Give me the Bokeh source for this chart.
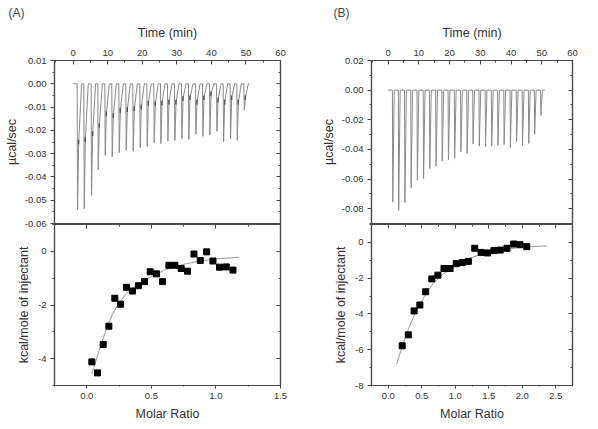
from bokeh.plotting import figure
from bokeh.layouts import row, column
from bokeh.models import (LinearAxis, SingleIntervalTicker, NumeralTickFormatter, Range1d,
                          CustomLabelingPolicy)
from bokeh.embed import file_html
from bokeh.resources import INLINE

FONT = "Liberation Sans"
TXT = "#333333"
FRAME = "#4a4a4a"
TRACE = "#8a8a8a"

# ---------------- data: panel A ----------------
a_inj_time = [1.15, 3.08, 5.20, 7.13, 9.16, 11.18, 13.21, 15.23, 17.26, 19.28, 21.31, 23.34, 25.27,
              27.29, 29.32, 31.35, 33.37, 35.40, 37.42, 39.45, 41.48, 43.41, 45.43, 47.36, 49.39]
a_peak = [-0.0540, -0.0536, -0.0479, -0.0369, -0.0307, -0.0314, -0.0296, -0.0286, -0.0290, -0.0274,
          -0.0269, -0.0254, -0.0257, -0.0246, -0.0243, -0.0236, -0.0239, -0.0217, -0.0226, -0.0220,
          -0.0204, -0.0250, -0.0236, -0.0243, -0.0114]
a_shoulder = [-0.0250, -0.0240, -0.0214, -0.0179, -0.0129, -0.0136, -0.0114, -0.0111, -0.0107, -0.0100,
              -0.0083, -0.0086, -0.0083, -0.0079, -0.0079, -0.0064, -0.0060, -0.0079, -0.0060, -0.0043,
              -0.0070, -0.0079, -0.0060, -0.0079, -0.0060]
a_ratio = [0.039, 0.083, 0.127, 0.171, 0.217, 0.261, 0.307, 0.354, 0.400, 0.447, 0.491, 0.540,
           0.587, 0.636, 0.682, 0.731, 0.780, 0.830, 0.879, 0.928, 0.977, 1.028, 1.080, 1.132]
a_heat = [-4.12, -4.53, -3.47, -2.79, -1.75, -1.97, -1.34, -1.48, -1.28, -1.13, -0.76, -0.84,
          -1.13, -0.52, -0.52, -0.64, -0.74, -0.10, -0.34, -0.02, -0.36, -0.59, -0.58, -0.70]
a_fit_x = [0.039, 0.096, 0.147, 0.199, 0.251, 0.302, 0.354, 0.432, 0.509, 0.612, 0.742, 0.871, 1.0, 1.181]
a_fit_y = [-4.58, -3.69, -2.95, -2.34, -1.91, -1.60, -1.38, -1.13, -0.92, -0.68, -0.49, -0.37, -0.28, -0.22]

# ---------------- data: panel B ----------------
b_inj_time = [1.40, 3.33, 5.35, 7.37, 9.40, 11.42, 13.45, 15.47, 17.49, 19.52, 21.54, 23.57, 25.59,
              27.52, 29.55, 31.57, 33.60, 35.62, 37.64, 39.67, 41.69, 43.62, 45.64, 47.57, 49.60]
b_peak = [-0.0755, -0.0811, -0.0759, -0.0660, -0.0608, -0.0597, -0.0529, -0.0513, -0.0479, -0.0472,
          -0.0461, -0.0416, -0.0427, -0.0363, -0.0377, -0.0382, -0.0377, -0.0372, -0.0368, -0.0389,
          -0.0348, -0.0372, -0.0360, -0.0298, -0.0172]
b_ratio = [0.208, 0.299, 0.386, 0.472, 0.559, 0.650, 0.741, 0.832, 0.923, 1.014, 1.105, 1.196,
           1.291, 1.386, 1.482, 1.577, 1.672, 1.772, 1.872, 1.967, 2.067]
b_heat = [-5.78, -5.17, -3.83, -3.50, -2.76, -2.04, -1.83, -1.46, -1.46, -1.19, -1.13, -1.06,
          -0.33, -0.56, -0.59, -0.46, -0.43, -0.33, -0.09, -0.13, -0.24]
b_fit_x = [0.126, 0.204, 0.290, 0.377, 0.464, 0.572, 0.680, 0.810, 0.984, 1.200, 1.417, 1.677, 1.980, 2.370]
b_fit_y = [-6.80, -5.87, -4.94, -4.17, -3.50, -2.81, -2.26, -1.80, -1.33, -0.91, -0.63, -0.41, -0.28, -0.19]

time_start, time_end = 0.0, 51.0

NO_LABELS = CustomLabelingPolicy(code="""
    for (const i of Array.from(indices)) { indices.unset(i) }
    return indices
""")


def thermogram(times, peaks, shoulders=None):
    xs, ys = [time_start], [0.0]
    for i, (t, p) in enumerate(zip(times, peaks)):
        if shoulders is not None:
            xs += [t, t + 0.12, t + 0.45, t + 1.3]
            ys += [0.0, p, shoulders[i], 0.0]
        else:
            xs += [t, t + 0.12, t + 0.6]
            ys += [0.0, p, 0.0]
    xs.append(time_end)
    ys.append(0.0)
    return xs, ys


def base_fig(width, height, xr, yr, xloc, left, right, top, bottom):
    p = figure(width=width, height=height, x_range=Range1d(*xr), y_range=Range1d(*yr),
               x_axis_location=xloc, output_backend="svg", toolbar_location=None,
               min_border_left=left, min_border_right=right, min_border_top=top,
               min_border_bottom=bottom)
    p.xgrid.visible = False
    p.ygrid.visible = False
    p.outline_line_color = FRAME
    p.outline_line_width = 1.2
    p.background_fill_color = "white"
    return p


def style(ax, interval, fmt, label=None, tin=0, tout=4, show=True):
    ax.ticker = SingleIntervalTicker(interval=interval, num_minor_ticks=2)
    ax.formatter = NumeralTickFormatter(format=fmt)
    ax.axis_line_color = FRAME
    ax.axis_line_width = 1.2
    ax.major_tick_line_color = FRAME
    ax.minor_tick_line_color = FRAME
    ax.major_tick_in = tin
    ax.major_tick_out = tout
    ax.minor_tick_in = tin // 2
    ax.minor_tick_out = tout // 2
    ax.major_label_text_font = FONT
    ax.major_label_text_color = TXT
    ax.major_label_text_font_size = "9.5px"
    if show:
        ax.major_label_standoff = 4
    else:
        ax.major_label_policy = NO_LABELS
        ax.major_label_standoff = 0
    if label:
        ax.axis_label = label
        ax.axis_label_text_font = FONT
        ax.axis_label_text_font_size = "12.5px"
        ax.axis_label_text_font_style = "normal"
        ax.axis_label_text_color = TXT


def mirror(p, side, interval, fmt):
    ax = LinearAxis()
    style(ax, interval, fmt, tin=4, tout=0, show=False)
    p.add_layout(ax, side)


def top_panel(width, left, right, times, peaks, yr, yint, tag, shoulders=None):
    p = base_fig(width, 231, (-5.4, 60), yr, "above", left, right, 60, 8)
    p.border_fill_color = "white"
    p.title.text = tag
    p.title.align = "left"
    p.title.vertical_align = "top"
    p.title.offset = -(left - 8)
    p.title.standoff = 2
    p.title.text_font = FONT
    p.title.text_font_size = "12px"
    p.title.text_font_style = "normal"
    p.title.text_color = "#444444"
    style(p.xaxis[0], 10, "0", "Time (min)", tin=4, tout=0)
    p.xaxis[0].major_label_standoff = 5
    p.xaxis[0].axis_label_standoff = 7
    style(p.yaxis[0], yint, "0.00", "µcal/sec", tin=0, tout=4)
    p.yaxis[0].axis_label_standoff = 3
    mirror(p, "right", yint, "0.00")
    xs, ys = thermogram(times, peaks, shoulders)
    p.line(xs, ys, line_color=TRACE, line_width=1)
    if shoulders is not None:
        sx = [t + 0.42 for t in times]
        p.segment(x0=sx, y0=[s - 0.001 for s in shoulders], x1=sx, y1=[s + 0.001 for s in shoulders],
                  line_color="#505050", line_width=1.4)
    return p


def bottom_panel(width, left, right, ratio, heat, fx, fy, xr, yr):
    p = base_fig(width, 213, xr, yr, "below", left, right, 8, 43)
    p.border_fill_alpha = 0
    p.margin = (-16, 0, 0, 0)
    style(p.xaxis[0], 0.5, "0.0", "Molar Ratio", tin=0, tout=3)
    p.xaxis[0].axis_label_standoff = 5
    style(p.yaxis[0], 2, "0", "kcal/mole of injectant", tin=0, tout=4)
    p.yaxis[0].axis_label_standoff = 4
    mirror(p, "right", 2, "0")
    mirror(p, "above", 0.5, "0.0")
    p.line(fx, fy, line_color="#9a9a9a", line_width=1)
    p.scatter(ratio, heat, marker="square", size=6, fill_color="black", line_color="black")
    return p


a_top = top_panel(318, 54, 38, a_inj_time, a_peak, (-0.06, 0.01), 0.01, "(A)", a_shoulder)
a_bot = bottom_panel(318, 54, 38, a_ratio, a_heat, a_fit_x, a_fit_y, (-0.25, 1.5), (-5, 1))
b_top = top_panel(279, 46, 7, b_inj_time, b_peak, (-0.09, 0.02), 0.02, "(B)")
b_bot = bottom_panel(279, 46, 7, b_ratio, b_heat, b_fit_x, b_fit_y, (-0.25, 2.75), (-8, 1))

layout = row(column(a_top, a_bot), column(b_top, b_bot))

with open("out.html", "w") as f:
    f.write(file_html(layout, INLINE))
